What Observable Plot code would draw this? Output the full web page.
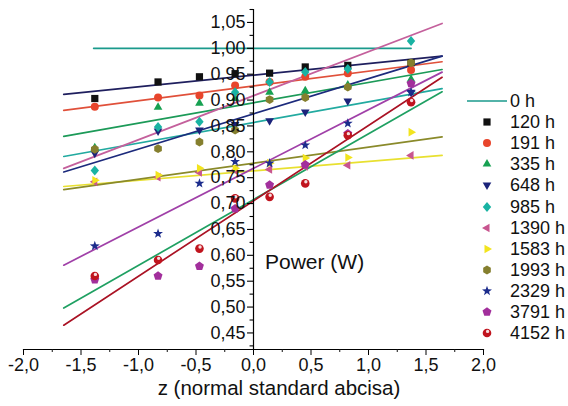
<!DOCTYPE html>
<html><head><meta charset="utf-8">
<script src="https://cdn.jsdelivr.net/npm/d3@7"></script>
<script src="https://cdn.jsdelivr.net/npm/@observablehq/plot@0.6"></script>
<style>
body{margin:0;background:#fff;}
#wrap{position:relative;width:568px;height:406px;font-family:"Liberation Sans",Arial,sans-serif;color:#111;overflow:hidden;}
#wrap svg{display:block;}
.ov{position:absolute;white-space:nowrap;}
.row{position:absolute;left:467px;width:101px;height:22px;line-height:22px;font-size:18px;white-space:nowrap;}
.row svg{position:absolute;left:0;top:0;}
.row span{position:absolute;left:43px;top:0;white-space:nowrap;}
</style></head><body><div id="wrap"></div>
<script>
// ---- data ----
const zValues = [-1.38, -0.83, -0.47, -0.16, 0.14, 0.45, 0.82, 1.37];
const seriesNames = ["120 h","191 h","335 h","648 h","985 h","1390 h","1583 h","1993 h","2329 h","3791 h","4152 h"];
const p120  = [0.903, 0.935, 0.945, 0.951, 0.952, 0.964, 0.967, 0.972];
const p191  = [0.887, 0.905, 0.909, 0.928, 0.935, 0.945, 0.952, 0.958];
const p335  = [0.808, 0.886, 0.894, 0.903, 0.915, 0.918, 0.929, 0.940];
const p648  = [0.797, 0.840, 0.842, 0.853, 0.860, 0.877, 0.898, 0.915];
const p985  = [0.764, 0.848, 0.858, 0.915, 0.935, 0.954, 0.960, 1.014];
const p1390 = [0.742, 0.751, 0.760, 0.764, 0.766, 0.772, 0.774, 0.793];
const p1583 = [0.745, 0.755, 0.768, 0.768, 0.778, 0.788, 0.789, 0.838];
const p1993 = [0.805, 0.806, 0.819, 0.842, 0.901, 0.905, 0.925, 0.972];
const p2329 = [0.618, 0.642, 0.739, 0.781, 0.778, 0.813, 0.855, 0.915];
const p3791 = [0.553, 0.560, 0.579, 0.690, 0.736, 0.775, 0.835, 0.932];
const p4152 = [0.560, 0.591, 0.613, 0.710, 0.713, 0.739, 0.832, 0.896];
const seriesValues = [p120, p191, p335, p648, p985, p1390, p1583, p1993, p2329, p3791, p4152];
const seriesColors = ["#111111","#e8452c","#17a152","#1b237a","#19b3a3","#c8558f","#f2e41e","#857f2e","#1c2c8c","#a22f9c","#c0141e"];
const seriesSymbols = ["square","circle","up","down","diamond","left","right","hexagon","star","pentagon","sphere"];

// fitted straight lines (end values read at the ends of each drawn line)
const fitNames  = ["0 h","120 h","191 h","335 h","648 h","985 h","1390 h","1583 h","1993 h","2329 h","3791 h","4152 h"];
const fitZStart = [-1.39, -1.65, -1.65, -1.65, -1.65, -1.65, -1.65, -1.65, -1.65, -1.65, -1.65, -1.65];
const fitZEnd   = [ 1.37,  1.64,  1.64,  1.64,  1.64,  1.64,  1.64,  1.64,  1.64,  1.64,  1.64,  1.64];
const fitStart  = [1.000, 0.911, 0.880, 0.830, 0.791, 0.768, 0.733, 0.727, 0.761, 0.581, 0.498, 0.465];
const fitEnd    = [1.000, 0.985, 0.974, 0.959, 0.922, 1.048, 0.793, 0.829, 0.985, 0.954, 0.916, 0.944];
const fitColors = ["#1a9a8c","#1f1f5e","#e0503a","#1c9a58","#22aaa0","#c4609c","#e8e030","#8a8a2a","#1c2a7c","#a040a8","#1fa062","#aa1224"];

// axes
const xTicks = [-2, -1.5, -1, -0.5, 0, 0.5, 1, 1.5, 2];
const xTickLabels = ["-2,0","-1,5","-1,0","-0,5","0,0","0,5","1,0","1,5","2,0"];
const xMinor = [-1.75, -1.25, -0.75, -0.25, 0.25, 0.75, 1.25, 1.75];
const yTicks = [0.45, 0.50, 0.55, 0.60, 0.65, 0.70, 0.75, 0.80, 0.85, 0.90, 0.95, 1.00, 1.05];
const yTickLabels = ["0,45","0,50","0,55","0,60","0,65","0,70","0,75","0,80","0,85","0,90","0,95","1,00","1,05"];
const yMinor = [0.425, 0.475, 0.525, 0.575, 0.625, 0.675, 0.725, 0.775, 0.825, 0.875, 0.925, 0.975, 1.025, 1.075];
const xDomain = [-2, 2];
const yDomain = [0.418, 1.075];
const xTitle = "z (normal standard abcisa)";
const yTitle = "Power (W)";

// ---- marker shapes ----
function poly(n, startDeg, R) {
  return {draw(ctx) {
    for (let i = 0; i < n; i++) {
      const a = (startDeg + i * 360 / n) * Math.PI / 180;
      const x = R * Math.cos(a), y = R * Math.sin(a);
      if (i) ctx.lineTo(x, y); else ctx.moveTo(x, y);
    }
    ctx.closePath();
  }};
}
const starSym = {draw(ctx) {
  for (let i = 0; i < 10; i++) {
    const R = i % 2 ? 2.1 : 5.2;
    const a = (-90 + i * 36) * Math.PI / 180;
    const x = R * Math.cos(a), y = R * Math.sin(a);
    if (i) ctx.lineTo(x, y); else ctx.moveTo(x, y);
  }
  ctx.closePath();
}};
const SYM = {
  square: {draw(ctx) { ctx.rect(-3.6, -3.6, 7.2, 7.2); }},
  circle: {draw(ctx) { ctx.moveTo(4, 0); ctx.arc(0, 0, 4, 0, 2 * Math.PI); }},
  sphere: {draw(ctx) { ctx.moveTo(4.3, 0); ctx.arc(0, 0, 4.3, 0, 2 * Math.PI); }},
  up: poly(3, -90, 5), down: poly(3, 90, 5), left: poly(3, 180, 5), right: poly(3, 0, 5),
  diamond: {draw(ctx) { ctx.moveTo(0, -5); ctx.lineTo(4.2, 0); ctx.lineTo(0, 5); ctx.lineTo(-4.2, 0); ctx.closePath(); }},
  hexagon: poly(6, -90, 4.4),
  pentagon: poly(5, -90, 4.7),
  star: starSym
};
const highlight = {draw(ctx) { ctx.moveTo(1.7, 0); ctx.arc(0, 0, 1.7, 0, 2 * Math.PI); }};

// ---- build marks ----
const marks = [];
fitNames.forEach((name, i) => {
  const rows = [{z: fitZStart[i], v: fitStart[i]}, {z: fitZEnd[i], v: fitEnd[i]}];
  marks.push(Plot.line(rows, {x: "z", y: "v", stroke: fitColors[i], strokeWidth: 1.7}));
});
seriesNames.forEach((name, i) => {
  const rows = zValues.map((z, j) => ({z, v: seriesValues[i][j]}));
  marks.push(Plot.dot(rows, {x: "z", y: "v", symbol: SYM[seriesSymbols[i]], fill: seriesColors[i], stroke: "none"}));
  if (seriesSymbols[i] === "sphere") {
    marks.push(Plot.dot(rows, {x: "z", y: "v", symbol: highlight, fill: "#fff", fillOpacity: 0.85, dx: 0.6, dy: -1.6}));
  }
});
// axes
marks.push(Plot.frame({anchor: "bottom", stroke: "#000", strokeWidth: 1.2}));
marks.push(Plot.axisX(xTicks, {tickSize: 6, tickPadding: 3, tickFormat: d => xTickLabels[xTicks.indexOf(d)], fontSize: 18, label: null, stroke: "#000"}));
marks.push(Plot.axisX(xMinor, {tickSize: 3, tickFormat: () => "", label: null}));
marks.push(Plot.ruleX([0], {stroke: "#000", strokeWidth: 1.2}));
marks.push(Plot.ruleY(yTicks, {y: d => d, x1: 0, x2: -0.052, stroke: "#000", strokeWidth: 1.1}));
marks.push(Plot.ruleY(yMinor, {y: d => d, x1: 0, x2: -0.03, stroke: "#000", strokeWidth: 1.1}));
marks.push(Plot.text(yTicks, {x: 0, y: d => d, text: (d, i) => yTickLabels[i], textAnchor: "end", dx: -8, fontSize: 18, fill: "#111"}));

const chart = Plot.plot({
  width: 568, height: 406,
  marginLeft: 23, marginRight: 85, marginTop: 9, marginBottom: 57,
  style: {fontFamily: "'Liberation Sans', Arial, sans-serif", fontSize: "18px", color: "#111", background: "#fff"},
  x: {domain: xDomain},
  y: {domain: yDomain, axis: null},
  marks
});
const wrap = document.getElementById("wrap");
wrap.appendChild(chart);

// ---- overlay texts ----
const t1 = document.createElement("div");
t1.className = "ov"; t1.textContent = xTitle;
Object.assign(t1.style, {left: "0px", width: "558px", textAlign: "center", top: "377px", fontSize: "20.5px", lineHeight: "21px"});
wrap.appendChild(t1);
const t2 = document.createElement("div");
t2.className = "ov"; t2.textContent = yTitle;
Object.assign(t2.style, {left: "265px", top: "250px", fontSize: "21px", lineHeight: "24px"});
wrap.appendChild(t2);

// ---- legend ----
fitNames.forEach((name, i) => {
  const row = document.createElement("div");
  row.className = "row";
  row.style.top = (90 + i * 21.1) + "px";
  const svg = d3.create("svg").attr("width", 42).attr("height", 22);
  if (i === 0) {
    svg.append("line").attr("x1", 0).attr("x2", 40).attr("y1", 11).attr("y2", 11).attr("stroke", fitColors[0]).attr("stroke-width", 1.7);
  } else {
    const k = i - 1;
    const g = svg.append("g").attr("transform", "translate(20,11)");
    g.append("path").attr("d", d3.symbol(SYM[seriesSymbols[k]], 50)()).attr("fill", seriesColors[k]);
    if (seriesSymbols[k] === "sphere") g.append("path").attr("d", d3.symbol(highlight, 10)()).attr("fill", "#fff").attr("fill-opacity", 0.85).attr("transform", "translate(0.6,-1.6)");
  }
  row.appendChild(svg.node());
  const sp = document.createElement("span");
  sp.textContent = name;
  row.appendChild(sp);
  wrap.appendChild(row);
});
</script></body></html>
